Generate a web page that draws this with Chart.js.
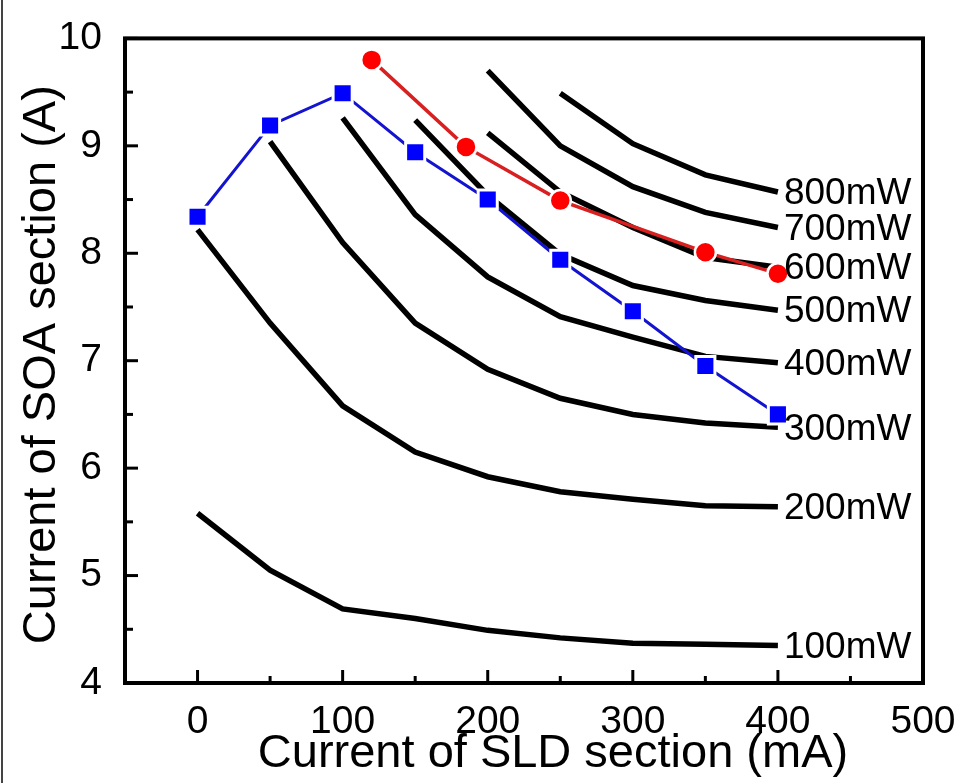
<!DOCTYPE html>
<html>
<head>
<meta charset="utf-8">
<script src="https://cdn.jsdelivr.net/npm/chart.js@4.4.1/dist/chart.umd.min.js"></script>
<style>
  html, body { margin: 0; padding: 0; background: #fff; }
  canvas { display: block; }
</style>
</head>
<body>
<canvas id="powerMap" width="968" height="783"></canvas>
<script>
// SLD current steps (mA) for the constant power curves
const sldCurrent = [0, 50, 100, 150, 200, 250, 300, 350, 400];

// SOA current (A) needed for each output power, null where the curve doesn't exist
const soa100 = [5.58, 5.05, 4.69, 4.60, 4.49, 4.42, 4.37, 4.36, 4.35];
const soa200 = [8.22, 7.35, 6.58, 6.15, 5.92, 5.78, 5.71, 5.65, 5.64];
const soa300 = [null, 9.04, 8.10, 7.35, 6.92, 6.65, 6.50, 6.42, 6.38];
const soa400 = [null, null, 9.26, 8.36, 7.78, 7.41, 7.22, 7.04, 6.98];
const soa500 = [null, null, null, 9.24, 8.54, 7.99, 7.70, 7.56, 7.47];
const soa600 = [null, null, null, null, 9.12, 8.57, 8.24, 7.96, 7.87];
const soa700 = [null, null, null, null, 9.70, 9.00, 8.62, 8.38, 8.24];
const soa800 = [null, null, null, null, null, 9.49, 9.02, 8.73, 8.57];
const powerLabels = ["100mW", "200mW", "300mW", "400mW", "500mW", "600mW", "700mW", "800mW"];

// blue squares
const blueX = [0, 50, 100, 150, 200, 250, 300, 350, 400];
const blueY = [8.34, 9.19, 9.49, 8.94, 8.50, 7.94, 7.46, 6.95, 6.50];

// red circles
const redX = [120, 185, 250, 350, 400];
const redY = [9.80, 8.99, 8.49, 8.01, 7.81];

const xTicks = [0, 100, 200, 300, 400, 500];
const xMinor = [50, 150, 250, 350, 450];
const yTicks = [4, 5, 6, 7, 8, 9, 10];
const yMinor = [4.5, 5.5, 6.5, 7.5, 8.5, 9.5];

const xTitle = "Current of SLD section (mA)";
const yTitle = "Current of SOA section (A)";

const FONT = "'Liberation Sans', Arial, sans-serif";

function toPoints(xs, ys) {
    return xs.map((x, i) => ({ x: x, y: ys[i] })).filter(p => p.y !== null);
}

const powerCurves = [soa100, soa200, soa300, soa400, soa500, soa600, soa700, soa800];

const datasets = [
    {
        label: "blue",
        data: toPoints(blueX, blueY),
        showLine: true,
        borderColor: "#1414d0",
        borderWidth: 3,
        pointStyle: "rect",
        pointRadius: 13.5,
        pointBackgroundColor: "#0000ff",
        pointBorderColor: "#ffffff",
        pointBorderWidth: 3
    },
    {
        label: "red",
        data: toPoints(redX, redY),
        showLine: true,
        borderColor: "#d82020",
        borderWidth: 3.5,
        pointStyle: "circle",
        pointRadius: 10.5,
        pointBackgroundColor: "#ff0000",
        pointBorderColor: "#ffffff",
        pointBorderWidth: 2.5
    }
];

powerCurves.forEach((ys, i) => {
    datasets.push({
        label: powerLabels[i],
        data: toPoints(sldCurrent, ys),
        showLine: true,
        borderColor: "#000000",
        borderWidth: 5.5,
        pointRadius: 0,
        isPower: true
    });
});

// white background, frame, inward ticks, axis titles and the power labels
const decorations = {
    id: "decorations",
    beforeDraw(chart) {
        const ctx = chart.ctx;
        ctx.save();
        ctx.fillStyle = "#ffffff";
        ctx.fillRect(0, 0, chart.width, chart.height);
        ctx.fillStyle = "#444444";
        ctx.fillRect(1, 0, 2, chart.height);
        ctx.restore();
    },
    afterDraw(chart) {
        const ctx = chart.ctx;
        const a = chart.chartArea;
        const xs = chart.scales.x, ys = chart.scales.y;
        ctx.save();
        ctx.strokeStyle = "#000";
        ctx.lineWidth = 3;
        xTicks.forEach(v => {
            const px = xs.getPixelForValue(v);
            ctx.beginPath(); ctx.moveTo(px, a.bottom); ctx.lineTo(px, a.bottom - 13); ctx.stroke();
        });
        xMinor.forEach(v => {
            const px = xs.getPixelForValue(v);
            ctx.beginPath(); ctx.moveTo(px, a.bottom); ctx.lineTo(px, a.bottom - 7); ctx.stroke();
        });
        yTicks.forEach(v => {
            const py = ys.getPixelForValue(v);
            ctx.beginPath(); ctx.moveTo(a.left, py); ctx.lineTo(a.left + 13, py); ctx.stroke();
        });
        yMinor.forEach(v => {
            const py = ys.getPixelForValue(v);
            ctx.beginPath(); ctx.moveTo(a.left, py); ctx.lineTo(a.left + 8, py); ctx.stroke();
        });
        ctx.lineWidth = 4;
        ctx.strokeRect(a.left, a.top, a.right - a.left, a.bottom - a.top);

        ctx.fillStyle = "#000";
        ctx.font = "37px " + FONT;
        ctx.textAlign = "left";
        ctx.textBaseline = "middle";
        chart.data.datasets.forEach(ds => {
            if (!ds.isPower) return;
            const last = ds.data[ds.data.length - 1];
            ctx.fillText(ds.label, xs.getPixelForValue(last.x) + 6, ys.getPixelForValue(last.y) + 2);
        });

        // axis titles (the original sits a bit right of the plot centre)
        ctx.font = "47px " + FONT;
        ctx.textAlign = "center";
        ctx.textBaseline = "alphabetic";
        ctx.fillText(xTitle, (a.left + a.right) / 2 + 29, chart.height - 16);
        ctx.translate(55, (a.top + a.bottom) / 2 + 4);
        ctx.rotate(-Math.PI / 2);
        ctx.fillText(yTitle, 0, 0);
        ctx.restore();
    }
};

new Chart(document.getElementById("powerMap"), {
    type: "scatter",
    data: { datasets: datasets },
    options: {
        responsive: false,
        animation: false,
        layout: { padding: { top: 32, right: 45, left: 0, bottom: 0 } },
        plugins: {
            legend: { display: false },
            tooltip: { enabled: false }
        },
        scales: {
            x: {
                type: "linear",
                min: -50,
                max: 500,
                afterBuildTicks: s => { s.ticks = xTicks.map(v => ({ value: v })); },
                afterFit: s => { s.height = 100; },
                grid: { display: false },
                border: { display: false },
                ticks: { color: "#000", font: { family: FONT, size: 39 }, padding: 8, maxRotation: 0 },
                title: { display: false }
            },
            y: {
                type: "linear",
                min: 4,
                max: 10,
                afterBuildTicks: s => { s.ticks = yTicks.map(v => ({ value: v })); },
                afterFit: s => { s.width = 125; },
                grid: { display: false },
                border: { display: false },
                ticks: { color: "#000", font: { family: FONT, size: 39 }, padding: 15 },
                title: { display: false }
            }
        }
    },
    plugins: [decorations]
});
</script>
</body>
</html>
